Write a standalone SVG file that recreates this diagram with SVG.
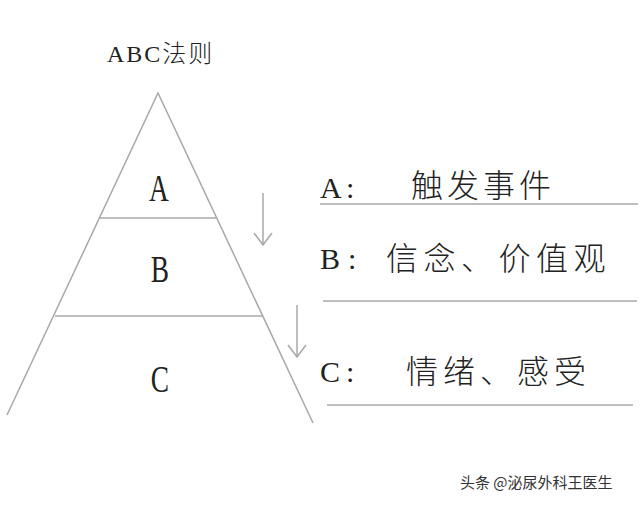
<svg xmlns="http://www.w3.org/2000/svg" width="640" height="506" viewBox="0 0 640 506">
<defs>
<style>
.ln{stroke:#a8a8a8;stroke-width:1.5;fill:none}
.lt{font-family:"Liberation Serif","Noto Sans CJK SC",serif;fill:#222}
.cj{font-family:"Noto Sans CJK SC",sans-serif;fill:#222;font-weight:300}
</style>
<marker id="v" viewBox="0 0 14 20" refX="13" refY="10" markerWidth="14" markerHeight="20" markerUnits="userSpaceOnUse" orient="auto">
<path d="M1,1 L13,10 L1,19" stroke="#a8a8a8" stroke-width="1.5" fill="none"/>
</marker>
</defs>
<rect width="640" height="506" fill="#fff"/>
<g id="title">
<text class="lt" x="107" y="62" font-size="24" letter-spacing="2" fill="#333">ABC<tspan class="cj" font-weight="400" fill="#333">法则</tspan></text>
</g>
<g id="pyramid">
<path class="ln" d="M7,415 L158,93 L313,423"/>
<line class="ln" x1="100" y1="218" x2="217" y2="218"/>
<line class="ln" x1="55" y1="316" x2="262" y2="316"/>
</g>
<g id="nodeA">
<text class="lt" font-size="38" text-anchor="middle" transform="translate(159,201) scale(0.72,1)">A</text>
</g>
<g id="nodeB">
<text class="lt" font-size="38" text-anchor="middle" transform="translate(160,282) scale(0.72,1)">B</text>
</g>
<g id="nodeC">
<text class="lt" font-size="38" text-anchor="middle" transform="translate(160,392) scale(0.72,1)">C</text>
</g>
<g id="connectors">
<line class="ln" x1="263" y1="193" x2="263" y2="245" marker-end="url(#v)"/>
<line class="ln" x1="297" y1="305" x2="297" y2="357" marker-end="url(#v)"/>
</g>
<g id="labelA">
<text class="lt" x="320" y="198" font-size="30">A</text>
<text class="lt" x="346" y="198" font-size="30">:</text>
<text class="cj" x="411" y="197" font-size="32" letter-spacing="4">触发事件</text>
<line class="ln" x1="320" y1="204" x2="638" y2="204"/>
</g>
<g id="labelB">
<text class="lt" x="320" y="269" font-size="30">B</text>
<text class="lt" x="348" y="269" font-size="30">:</text>
<text class="cj" x="386" y="270" font-size="32" letter-spacing="5.5">信念、价值观</text>
<line class="ln" x1="323" y1="301" x2="637" y2="301"/>
</g>
<g id="labelC">
<text class="lt" x="320" y="382" font-size="30">C</text>
<text class="lt" x="346" y="382" font-size="30">:</text>
<text class="cj" x="406" y="383" font-size="32" letter-spacing="5">情绪、感受</text>
<line class="ln" x1="327" y1="405" x2="633" y2="405"/>
</g>
<g id="watermark">
<text x="460" y="488" font-family="'Noto Sans CJK SC',sans-serif" font-size="15" fill="#333">头条 @泌尿外科王医生</text>
</g>
</svg>
